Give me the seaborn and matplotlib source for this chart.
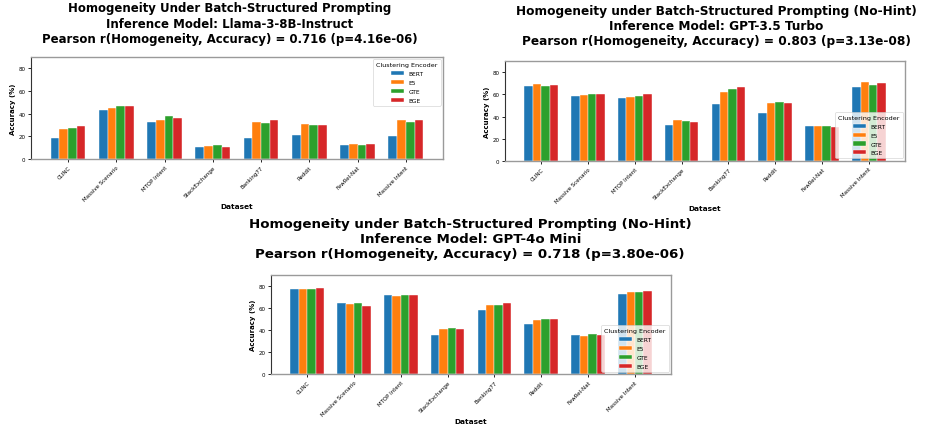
import pandas as pd
import matplotlib.pyplot as plt
import seaborn as sns

# **********Data**********
datasets = ['CLINC', 'Massive Scenario', 'MTOP Intent', 'StackExchange',
            'Banking77', 'Reddit', 'FewRel-Nat', 'Massive Intent']
encoders = ['BERT', 'E5', 'GTE', 'BGE']

# accuracy (%) per dataset, one list per encoder
llama_bert = [18.8, 43.5, 32.3, 10.3, 18.2, 21.5, 12.6, 20.3]
llama_e5 = [26.2, 45.3, 34.1, 11.5, 32.6, 30.6, 12.9, 34.1]
llama_gte = [27.6, 46.5, 37.9, 12.6, 32.0, 30.0, 12.3, 32.6]
llama_bge = [29.4, 46.7, 35.9, 10.6, 34.7, 30.3, 13.5, 34.4]

gpt35_bert = [67.7, 58.7, 56.9, 31.9, 51.5, 42.8, 31.0, 66.8]
gpt35_e5 = [69.2, 59.6, 57.8, 36.7, 62.3, 51.8, 31.0, 71.0]
gpt35_gte = [67.7, 60.8, 59.0, 35.8, 64.7, 53.0, 31.8, 68.6]
gpt35_bge = [68.9, 60.8, 60.5, 34.6, 66.8, 52.1, 30.8, 70.1]

gpt4o_bert = [76.9, 64.8, 72.1, 35.6, 58.4, 45.6, 35.3, 73.0]
gpt4o_e5 = [77.6, 63.3, 70.9, 41.1, 62.7, 49.0, 34.7, 74.2]
gpt4o_gte = [77.2, 64.8, 71.5, 41.7, 63.0, 50.2, 36.2, 74.8]
gpt4o_bge = [78.5, 62.0, 72.1, 40.8, 64.8, 50.2, 35.3, 75.7]

titles = [
    'Homogeneity Under Batch-Structured Prompting\nInference Model: Llama-3-8B-Instruct\n'
    'Pearson r(Homogeneity, Accuracy) = 0.716 (p=4.16e-06)',
    'Homogeneity under Batch-Structured Prompting (No-Hint)\nInference Model: GPT-3.5 Turbo\n'
    'Pearson r(Homogeneity, Accuracy) = 0.803 (p=3.13e-08)',
    'Homogeneity under Batch-Structured Prompting (No-Hint)\nInference Model: GPT-4o Mini\n'
    'Pearson r(Homogeneity, Accuracy) = 0.718 (p=3.80e-06)',
]


def to_long(bert, e5, gte, bge):
    rows = []
    for enc, vals in zip(encoders, [bert, e5, gte, bge]):
        for ds, v in zip(datasets, vals):
            rows.append({'Dataset': ds, 'Clustering Encoder': enc, 'Accuracy': v})
    return pd.DataFrame(rows)


def draw_panel(ax, df, legend_loc):
    sns.barplot(data=df, x='Dataset', y='Accuracy', hue='Clustering Encoder',
                palette=sns.color_palette('tab10', 4), saturation=1, width=0.72,
                ax=ax, edgecolor='white', linewidth=0.3, errorbar=None)
    ax.set_xlim(-0.77, 7.77)
    ax.set_ylim(0, 90)
    ax.set_yticks([0, 20, 40, 60, 80])
    ax.set_xlabel('Dataset', fontsize=5.3, fontweight='bold', labelpad=1)
    ax.set_ylabel('Accuracy (%)', fontsize=5, fontweight='bold', labelpad=2)
    ax.tick_params(axis='both', labelsize=4.0, length=2.5, width=0.6, pad=1.5)
    plt.setp(ax.get_xticklabels(), rotation=45, ha='right', rotation_mode='anchor')
    for side in ['top', 'right', 'bottom']:
        ax.spines[side].set_color('#9a9a9a')
        ax.spines[side].set_linewidth(1.0)
    ax.spines['left'].set_color('#333333')
    ax.spines['left'].set_linewidth(0.8)
    leg = ax.legend(title='Clustering Encoder', loc=legend_loc, fontsize=4.2,
                    title_fontsize=4.6, borderaxespad=0.4, handlelength=2.2,
                    labelspacing=0.65, borderpad=0.5)
    leg.get_frame().set_linewidth(0.5)


if __name__ == "__main__":
    fig = plt.figure(figsize=(9.33, 4.27), dpi=100)

    ax1 = fig.add_axes([0.0332, 0.6253, 0.4416, 0.2389])
    ax2 = fig.add_axes([0.5413, 0.6213, 0.4287, 0.2328])
    ax3 = fig.add_axes([0.2905, 0.1218, 0.4287, 0.2319])

    draw_panel(ax1, to_long(llama_bert, llama_e5, llama_gte, llama_bge), 'upper right')
    draw_panel(ax2, to_long(gpt35_bert, gpt35_e5, gpt35_gte, gpt35_bge), 'lower right')
    draw_panel(ax3, to_long(gpt4o_bert, gpt4o_e5, gpt4o_gte, gpt4o_bge), 'lower right')

    # titles of the three panels (top two are squeezed in the original)
    fig.text(0.246, 0.995, titles[0], ha='center', va='top', fontsize=9.4,
             fontweight='bold', fontstretch='condensed', linespacing=1.25)
    fig.text(0.768, 0.988, titles[1], ha='center', va='top', fontsize=9.7,
             fontweight='bold', fontstretch='condensed', linespacing=1.2)
    fig.text(0.504, 0.489, titles[2], ha='center', va='top', fontsize=9.6,
             fontweight='bold', linespacing=1.2)

    plt.savefig('out.png', dpi=100)
    plt.close(fig)
